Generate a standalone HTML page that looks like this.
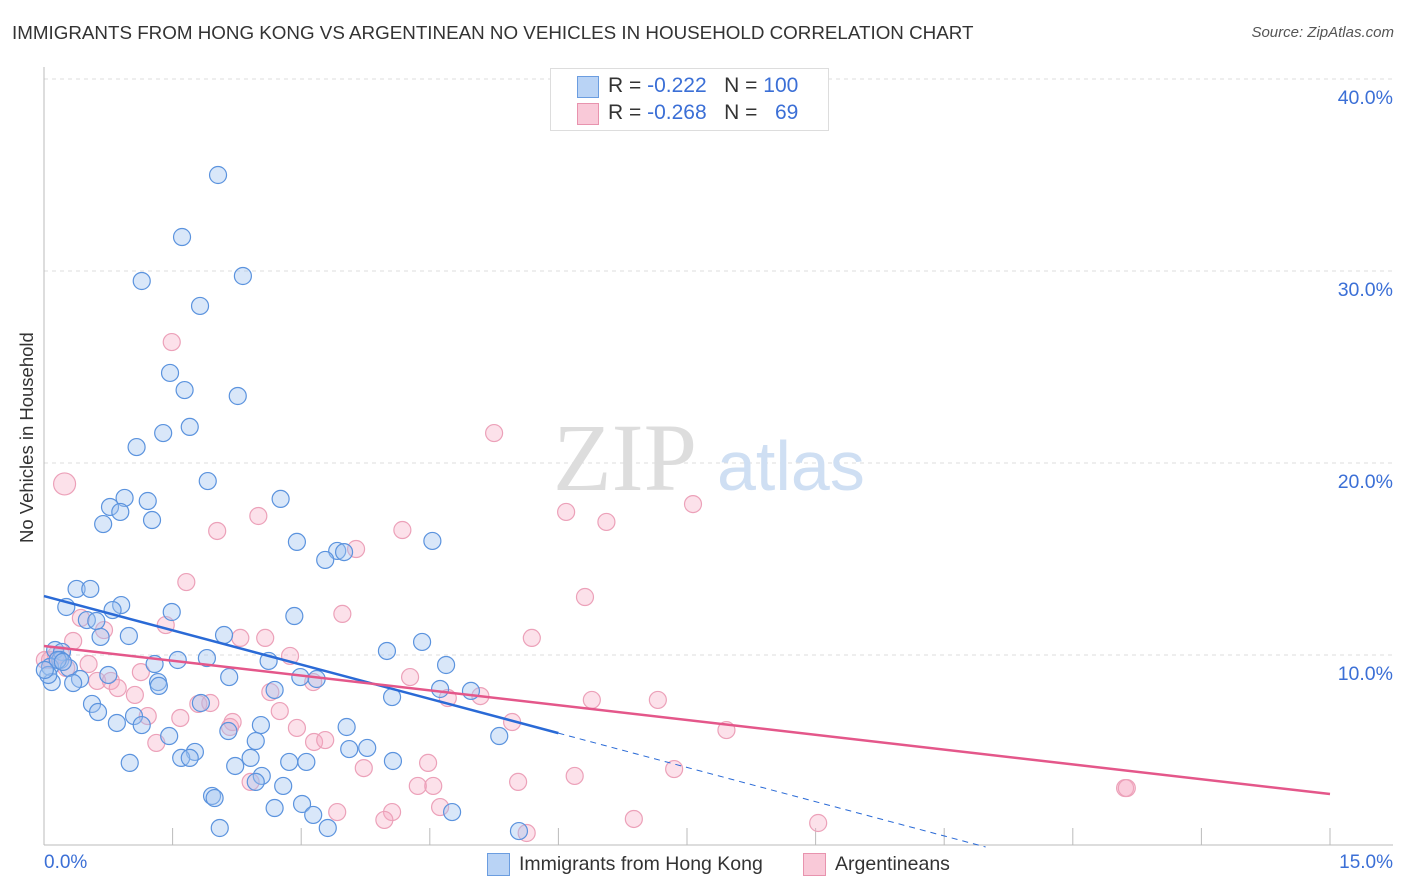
<!DOCTYPE html>
<html><head><meta charset="utf-8"><style>
body{margin:0;background:#fff;font-family:"Liberation Sans",sans-serif;}
#wrap{position:relative;width:1406px;height:892px;overflow:hidden;}
.t{position:absolute;white-space:nowrap;}
</style></head><body>
<div id="wrap">
<div class="t" style="left:12px;top:22px;font-size:18.8px;color:#333;">IMMIGRANTS FROM HONG KONG VS ARGENTINEAN NO VEHICLES IN HOUSEHOLD CORRELATION CHART</div>
<div class="t" style="right:12px;top:24px;font-size:15px;color:#555;font-style:italic;">Source: ZipAtlas.com</div>
<div class="t" style="left:-61px;top:444px;font-size:18.5px;color:#333;transform:rotate(-90deg);width:176px;text-align:center;">No Vehicles in Household</div>
<svg id="svg" width="1406" height="892" style="position:absolute;left:0;top:0"></svg>
<div class="t" style="left:44px;top:852px;font-size:19px;color:#3b6fd6;">0.0%</div>
<div class="t" style="right:13px;top:852px;font-size:19px;color:#3b6fd6;">15.0%</div>
<div style="position:absolute;left:550px;top:68px;width:277px;height:61px;border:1px solid #ddd;background:#fff;font-size:21px;">
 <div style="position:absolute;left:26px;top:7px;width:20px;height:20px;background:#b9d3f5;border:1px solid #6b9de0"></div>
 <div class="t" style="left:57px;top:5px;color:#333">R = <span style="color:#3b6fd6">-0.222</span>&nbsp;&nbsp;&nbsp;N = <span style="color:#3b6fd6">100</span></div>
 <div style="position:absolute;left:26px;top:34px;width:20px;height:20px;background:#f9c9d8;border:1px solid #e893ae"></div>
 <div class="t" style="left:57px;top:32px;color:#333">R = <span style="color:#3b6fd6">-0.268</span>&nbsp;&nbsp;&nbsp;N = &nbsp;&nbsp;<span style="color:#3b6fd6">69</span></div>
</div>
<div style="position:absolute;left:487px;top:853px;">
 <div style="position:absolute;left:0;top:0;width:21px;height:21px;background:#b9d3f5;border:1px solid #6b9de0"></div>
 <div class="t" style="left:32px;top:0px;font-size:19.5px;color:#333">Immigrants from Hong Kong</div></div>
<div style="position:absolute;left:803px;top:853px;">
 <div style="position:absolute;left:0;top:0;width:21px;height:21px;background:#f9c9d8;border:1px solid #e893ae"></div>
 <div class="t" style="left:32px;top:0px;font-size:19.5px;color:#333">Argentineans</div></div>
</div>
<script>
const yTicks=[10,20,30,40];
const yTickLabels=["10.0%","20.0%","30.0%","40.0%"];
const xTicks=[0,1.5,3,4.5,6,7.5,9,10.5,12,13.5,15];
const blueX=[2.03,1.61,1.14,2.32,1.82,1.47,1.64,2.26,1.70,1.39,1.08,1.91,0.94,2.76,1.21,0.77,0.89,1.26,0.69,2.95,4.53,3.42,3.50,3.28,0.38,0.54,0.26,0.90,2.92,0.80,1.49,0.50,0.61,0.99,0.66,2.10,4.41,0.13,0.21,4.00,0.19,1.56,1.90,4.69,2.62,1.29,0.07,0.29,2.16,2.99,3.18,0.09,0.42,0.75,1.33,1.34,0.34,4.62,4.98,2.69,4.06,1.83,0.56,0.63,1.05,0.85,1.14,3.53,2.53,5.31,1.46,2.15,2.47,1.76,3.56,3.77,1.60,1.70,2.41,4.07,2.23,2.86,3.06,1.00,2.54,2.47,2.79,1.96,1.99,2.69,3.01,4.76,3.14,2.05,3.31,5.54,0.05,0.16,0.01,0.22];
const blueY=[35.0,31.77,29.48,29.74,28.18,24.69,23.80,23.49,21.88,21.56,20.83,19.06,18.18,18.13,18.02,17.71,17.45,17.03,16.82,15.89,15.94,15.42,15.36,14.95,13.44,13.44,12.5,12.6,12.03,12.34,12.24,11.82,11.77,10.99,10.94,11.04,10.68,10.26,10.16,10.21,9.74,9.74,9.84,9.48,9.69,9.53,9.38,9.32,8.85,8.85,8.75,8.59,8.75,8.96,8.59,8.39,8.54,8.23,8.13,8.18,7.81,7.5,7.45,7.03,6.82,6.46,6.35,6.25,6.35,5.78,5.78,6.04,5.52,4.95,5.10,5.16,4.64,4.64,4.64,4.48,4.22,4.43,4.43,4.38,3.70,3.39,3.18,2.66,2.55,2.03,2.24,1.82,1.67,0.99,0.99,0.83,8.96,9.74,9.22,9.64];
const pinkX=[0.24,1.49,5.25,7.57,6.09,6.56,2.50,2.02,4.18,3.64,1.66,6.31,3.48,1.42,0.43,5.69,0.70,0.34,2.29,2.58,0.20,0.52,2.87,0.01,4.27,1.13,0.62,0.78,2.64,3.14,4.71,5.09,6.39,7.16,0.86,1.06,1.80,1.94,1.59,1.21,2.20,2.17,2.75,2.95,5.46,7.96,1.31,3.15,3.28,4.48,3.73,7.35,6.19,5.53,4.54,4.36,2.41,12.61,12.63,4.62,3.42,4.06,3.97,6.88,9.03,5.63,0.26,0.07,0.14];
const pinkY=[18.91,26.30,21.56,17.86,17.45,16.93,17.24,16.46,16.51,15.52,13.80,13.02,12.14,11.56,11.93,10.89,11.30,10.73,10.89,10.89,10.0,9.53,9.95,9.74,8.85,9.11,8.65,8.65,8.07,8.59,7.76,7.86,7.66,7.66,8.28,7.92,7.45,7.5,6.72,6.82,6.51,6.25,7.08,6.20,6.51,6.09,5.42,5.47,5.57,4.38,4.11,4.06,3.70,3.39,3.18,3.18,3.39,3.07,3.07,2.08,1.82,1.82,1.41,1.46,1.25,0.73,9.32,9.74,10.0];
const blueTrend=[13.07,-1.19];
const pinkTrend=[10.47,-0.514];
const X0=44,X1=1330,Y0=847,Y1=79;
const sx=v=>X0+(X1-X0)*v/15, sy=v=>Y0-(Y0-Y1)*v/40;
const svg=document.getElementById('svg');const NS='http://www.w3.org/2000/svg';
function mk(t,a){const e=document.createElementNS(NS,t);for(const k in a)e.setAttribute(k,a[k]);svg.appendChild(e);return e;}
yTicks.forEach((v,i)=>{
 const g=mk('line',{x1:44,x2:1393,y1:sy(v),y2:sy(v),stroke:'#ddd','stroke-dasharray':'4,4'});
 
 
 const t=mk('text',{x:1393,y:sy(v)+25,'text-anchor':'end','font-size':19.5,fill:'#3b6fd6','font-family':'Liberation Sans, sans-serif'});
 t.textContent=yTickLabels[i];
 
 
});
const ax=mk('line',{x1:44,x2:1393,y1:845,y2:845,stroke:'#bbb'});


const ay=mk('line',{x1:44,x2:44,y1:67,y2:845,stroke:'#bbb'});


xTicks.forEach(v=>{if(v===0)return;
 const l=mk('line',{x1:sx(v),x2:sx(v),y1:828,y2:845,stroke:'#bbb'});
 
 });
const wm=mk('text',{x:553,y:490,'font-size':96,fill:'#ddd','font-family':'Liberation Serif, serif'});wm.textContent='ZIP';


const wm2=mk('text',{x:717,y:490,'font-size':70,fill:'#cfdff3','font-family':'Liberation Sans, sans-serif'});wm2.textContent='atlas';


pinkX.forEach((x,i)=>{const c=mk('circle',{cx:sx(x),cy:sy(pinkY[i]),r:i===0?11:8.5,fill:'rgba(246,170,195,0.35)',stroke:'#eca1b9','stroke-width':1.2});
 
 });
blueX.forEach((x,i)=>{const c=mk('circle',{cx:sx(x),cy:sy(blueY[i]),r:8.5,fill:'rgba(160,196,240,0.4)',stroke:'#5b93de','stroke-width':1.2});
 
 });
const bl=mk('line',{x1:sx(0),y1:sy(blueTrend[0]),x2:sx(6),y2:sy(blueTrend[0]+blueTrend[1]*6),stroke:'#2a6ad6','stroke-width':2.5});


const xe=-blueTrend[0]/blueTrend[1];
const bd=mk('line',{x1:sx(6),y1:sy(blueTrend[0]+blueTrend[1]*6),x2:sx(xe),y2:sy(0),stroke:'#2a6ad6','stroke-width':1,'stroke-dasharray':'6,5'});


const pl=mk('line',{x1:sx(0),y1:sy(pinkTrend[0]),x2:sx(15),y2:sy(pinkTrend[0]+pinkTrend[1]*15),stroke:'#e4578a','stroke-width':2.5});


</script>
</body></html>
